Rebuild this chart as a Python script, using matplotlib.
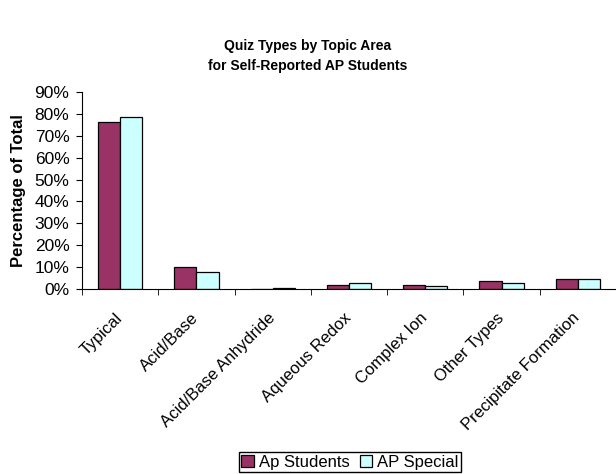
import numpy as np
import matplotlib.pyplot as plt
import matplotlib.transforms as mtransforms
from matplotlib.ticker import FixedLocator

categories = ['Typical', 'Acid/Base', 'Acid/Base Anhydride', 'Aqueous Redox',
              'Complex Ion', 'Other Types', 'Precipitate Formation']
ap_students = [76, 10, 0.3, 2.1, 2.1, 3.6, 4.9]
ap_special = [78.5, 8, 0.6, 3.0, 1.7, 3.0, 4.9]
yticks = [0, 10, 20, 30, 40, 50, 60, 70, 80, 90]

plt.rcParams['font.family'] = ['Liberation Sans', 'DejaVu Sans']

fig = plt.figure(figsize=(6.16, 4.74), dpi=100)
ax = fig.add_axes([0.1331, 0.3897, 0.8669, 0.4168])

x = np.arange(len(categories))
w = 0.29
ax.bar(x - w / 2, ap_students, w, color='#993366', edgecolor='black', linewidth=0.9, label='Ap Students')
ax.bar(x + w / 2, ap_special, w, color='#CCFFFF', edgecolor='black', linewidth=0.9, label='AP Special')

ax.set_xlim(-0.5, len(categories) - 0.5)
ax.set_ylim(0, 90)
ax.set_yticks(yticks)
ax.set_yticklabels([f'{v}%' for v in yticks], fontsize=12.5)
ax.set_xticks(x)
ax.set_xticklabels(categories, rotation=45, ha='right', va='top',
                   rotation_mode='anchor', fontsize=12)
ax.tick_params(axis='x', length=0, pad=15)
# shift the rotated labels a little to the left, like the original
shift = mtransforms.ScaledTranslation(-4 / 72, 0, fig.dpi_scale_trans)
for lab in ax.get_xticklabels():
    lab.set_transform(lab.get_transform() + shift)
ax.xaxis.set_minor_locator(FixedLocator(np.arange(-0.5, len(categories), 1)))
ax.tick_params(axis='x', which='minor', length=4, direction='out')
ax.tick_params(axis='y', length=4, direction='out', pad=5)
ax.spines['top'].set_visible(False)
ax.spines['right'].set_visible(False)
ax.set_ylabel('Percentage of Total', fontsize=12, fontweight='bold', labelpad=6)

fig.text(0.5, 0.881, 'Quiz Types by Topic Area\nfor Self-Reported AP Students',
         ha='center', va='center', fontsize=10, fontweight='bold', linespacing=1.55)

fig.legend(loc='center', bbox_to_anchor=(0.568, 0.025), ncol=2, fontsize=12,
           frameon=True, fancybox=False, edgecolor='black', handlelength=0.75,
           handleheight=0.75, handletextpad=0.3, columnspacing=0.6, borderpad=0.15,
           borderaxespad=0, framealpha=1)

fig.savefig('out.png', dpi=100)
